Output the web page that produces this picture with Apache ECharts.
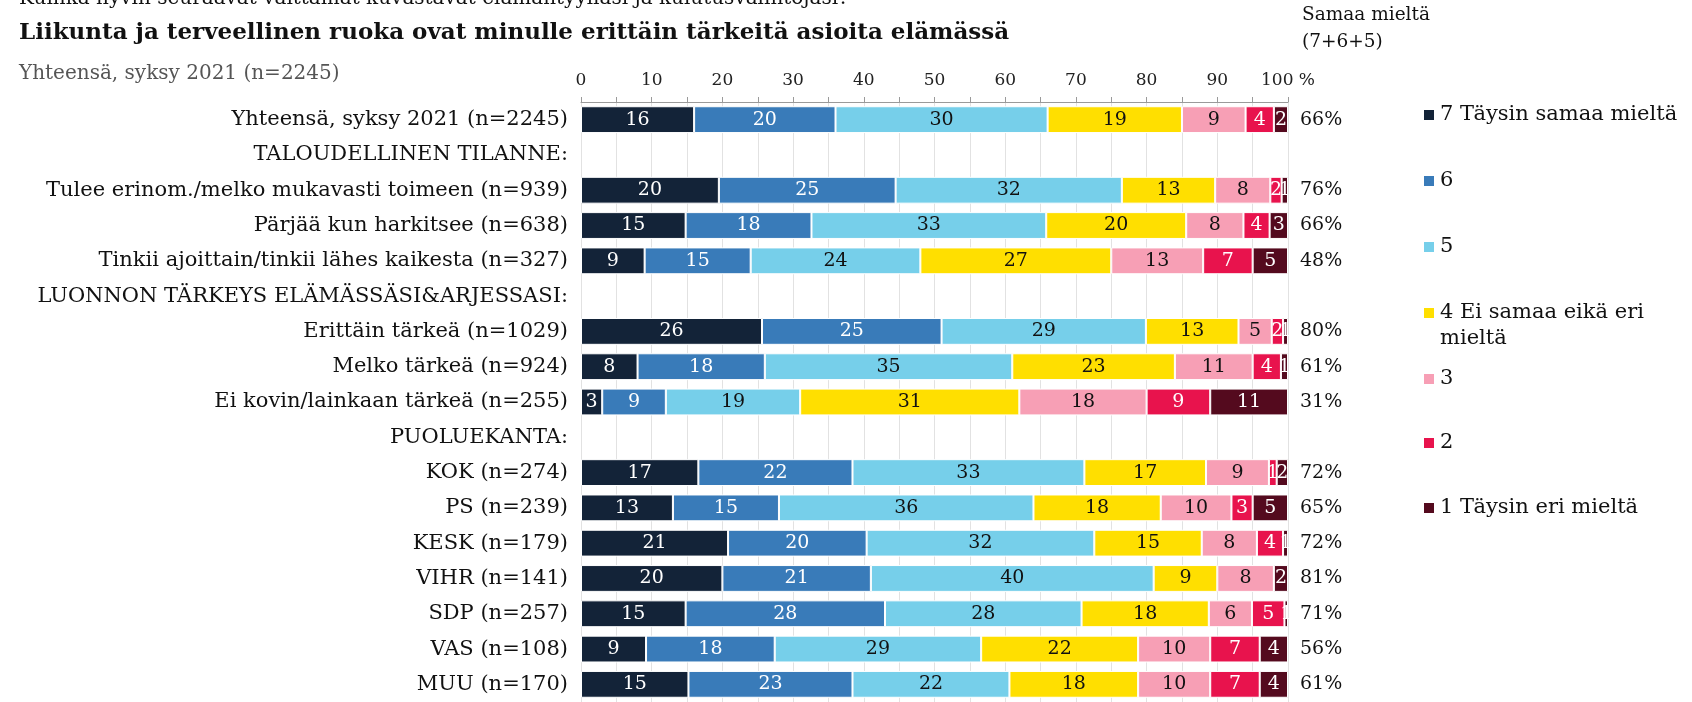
<!DOCTYPE html>
<html>
<head>
<meta charset="utf-8">
<script src="https://cdn.jsdelivr.net/npm/echarts@6/dist/echarts.min.js"></script>
<style>
  html, body { margin: 0; padding: 0; background: #fff; }
  #chart { width: 1692px; height: 702px; }
</style>
</head>
<body>
<div id="chart"></div>
<script>
var FONT = '"DejaVu Serif", serif';

var categories = [
    'Yhteensä, syksy 2021 (n=2245)',
    'TALOUDELLINEN TILANNE:',
    'Tulee erinom./melko mukavasti toimeen (n=939)',
    'Pärjää kun harkitsee (n=638)',
    'Tinkii ajoittain/tinkii lähes kaikesta (n=327)',
    'LUONNON TÄRKEYS ELÄMÄSSÄSI&ARJESSASI:',
    'Erittäin tärkeä (n=1029)',
    'Melko tärkeä (n=924)',
    'Ei kovin/lainkaan tärkeä (n=255)',
    'PUOLUEKANTA:',
    'KOK (n=274)',
    'PS (n=239)',
    'KESK (n=179)',
    'VIHR (n=141)',
    'SDP (n=257)',
    'VAS (n=108)',
    'MUU (n=170)'
];

// shares in % (labels show them rounded)
var s7 = [16, '-', 19.5, 14.8, 9, '-', 25.6, 8, 3, '-', 16.6, 13, 20.8, 20, 14.8, 9.2, 15.2];
var s6 = [20, '-', 25, 17.8, 15, '-', 25.4, 18, 9, '-', 21.8, 15, 19.6, 21, 28.2, 18.2, 23.2];
var s5 = [30, '-', 32, 33.2, 24, '-', 28.9, 35, 19, '-', 32.8, 36, 32.2, 40, 27.8, 29.2, 22.2];
var s4 = [19, '-', 13.2, 19.8, 27, '-', 13.1, 23, 31, '-', 17.2, 18, 15.2, 9, 18, 22.2, 18.2];
var s3 = [9, '-', 7.8, 8.1, 13, '-', 4.7, 11, 18, '-', 8.9, 10, 7.8, 8, 6.1, 10.2, 10.2];
var s2 = [4, '-', 1.6, 3.7, 7, '-', 1.6, 4, 9, '-', 1.1, 3, 3.7, 0, 4.6, 7, 7];
var s1 = [2, '-', 0.9, 2.6, 5, '-', 0.7, 1, 11, '-', 1.6, 5, 0.7, 2, 0.5, 4, 4];

// Samaa mieltä (7+6+5)
var agree = ['66%', '', '76%', '66%', '48%', '', '80%', '61%', '31%', '', '72%', '65%', '72%', '81%', '71%', '56%', '61%'];

var seriesNames = ['7 Täysin samaa mieltä', '6', '5', '4 Ei samaa eikä eri mieltä', '3', '2', '1 Täysin eri mieltä'];
var seriesData = [s7, s6, s5, s4, s3, s2, s1];
var colors = ['#132338', '#397bb9', '#76cfea', '#ffdf00', '#f79fb5', '#e8134d', '#540a1e'];
var labelColors = ['#fff', '#fff', '#111', '#111', '#111', '#fff', '#fff'];
var legendCenters = [115, 181, 247, 313, 379, 443, 508];

var chart = echarts.init(document.getElementById('chart'));

var series = seriesNames.map(function (name, i) {
    return {
        name: name,
        type: 'bar',
        stack: 'total',
        barWidth: '76%',
        data: seriesData[i],
        itemStyle: {
            color: colors[i],
            borderColor: '#fff',
            borderWidth: 1
        },
        label: {
            show: true,
            position: 'inside',
            color: labelColors[i],
            fontFamily: FONT,
            fontSize: 19,
            formatter: function (p) {
                return p.value > 0 ? Math.round(p.value) : '';
            }
        },
        emphasis: { disabled: true }
    };
});

var legends = seriesNames.map(function (name, i) {
    var twoLine = i === 3;
    return {
        data: [name],
        orient: 'vertical',
        left: 1422,
        top: twoLine ? legendCenters[i] - 39 : legendCenters[i] - 13,
        padding: 0,
        icon: 'rect',
        itemWidth: 12,
        itemHeight: 12,
        selectedMode: false,
        formatter: function (n) {
            // blank first line keeps the icon level with the first text line
            return twoLine ? ' \n4 Ei samaa eikä eri\nmieltä' : n;
        },
        textStyle: {
            fontFamily: FONT,
            fontSize: 21,
            color: '#111',
            lineHeight: 26
        }
    };
});

var option = {
    animation: false,
    color: colors,
    textStyle: { fontFamily: FONT },
    grid: {
        left: 581,
        top: 102,
        width: 707,
        height: 600
    },
    legend: legends,
    xAxis: {
        type: 'value',
        position: 'top',
        min: 0,
        max: 100,
        interval: 5,
        axisLine: { show: true, lineStyle: { color: '#9a9a9a' } },
        axisTick: { show: true, length: 5, lineStyle: { color: '#9a9a9a' } },
        splitLine: { show: true, lineStyle: { color: '#e2e2e2' } },
        axisLabel: {
            margin: 13,
            fontFamily: FONT,
            fontSize: 17,
            color: '#222',
            formatter: function (v) {
                if (v === 100) return '100 %';
                return v % 10 === 0 ? String(v) : '';
            }
        }
    },
    yAxis: [{
        type: 'category',
        data: categories,
        inverse: true,
        axisLine: { show: false },
        axisTick: { show: false },
        axisLabel: {
            margin: 13,
            fontFamily: FONT,
            fontSize: 21,
            color: '#111'
        }
    }, {
        type: 'category',
        data: agree,
        inverse: true,
        position: 'right',
        axisLine: { show: false },
        axisTick: { show: false },
        axisLabel: {
            margin: 12,
            fontFamily: FONT,
            fontSize: 19,
            color: '#111'
        }
    }],
    graphic: [
        {
            type: 'text', left: 19, top: -11,
            style: {
                text: 'Kuinka hyvin seuraavat väittämät kuvastavat elämäntyyliäsi ja kulutusvalintojasi?',
                font: '20px ' + FONT, fill: '#111'
            }
        },
        {
            type: 'text', left: 19, top: 22,
            style: {
                text: 'Liikunta ja terveellinen ruoka ovat minulle erittäin tärkeitä asioita elämässä',
                font: 'bold 23px ' + FONT, fill: '#111'
            }
        },
        {
            type: 'text', left: 19, top: 64,
            style: {
                text: 'Yhteensä, syksy 2021 (n=2245)',
                font: '20px ' + FONT, fill: '#555'
            }
        },
        {
            type: 'text', left: 1302, top: 2,
            style: {
                text: 'Samaa mieltä\n(7+6+5)',
                font: '18.5px ' + FONT, fill: '#111',
                lineHeight: 27
            }
        }
    ],
    series: series
};

chart.setOption(option);
</script>
</body>
</html>
